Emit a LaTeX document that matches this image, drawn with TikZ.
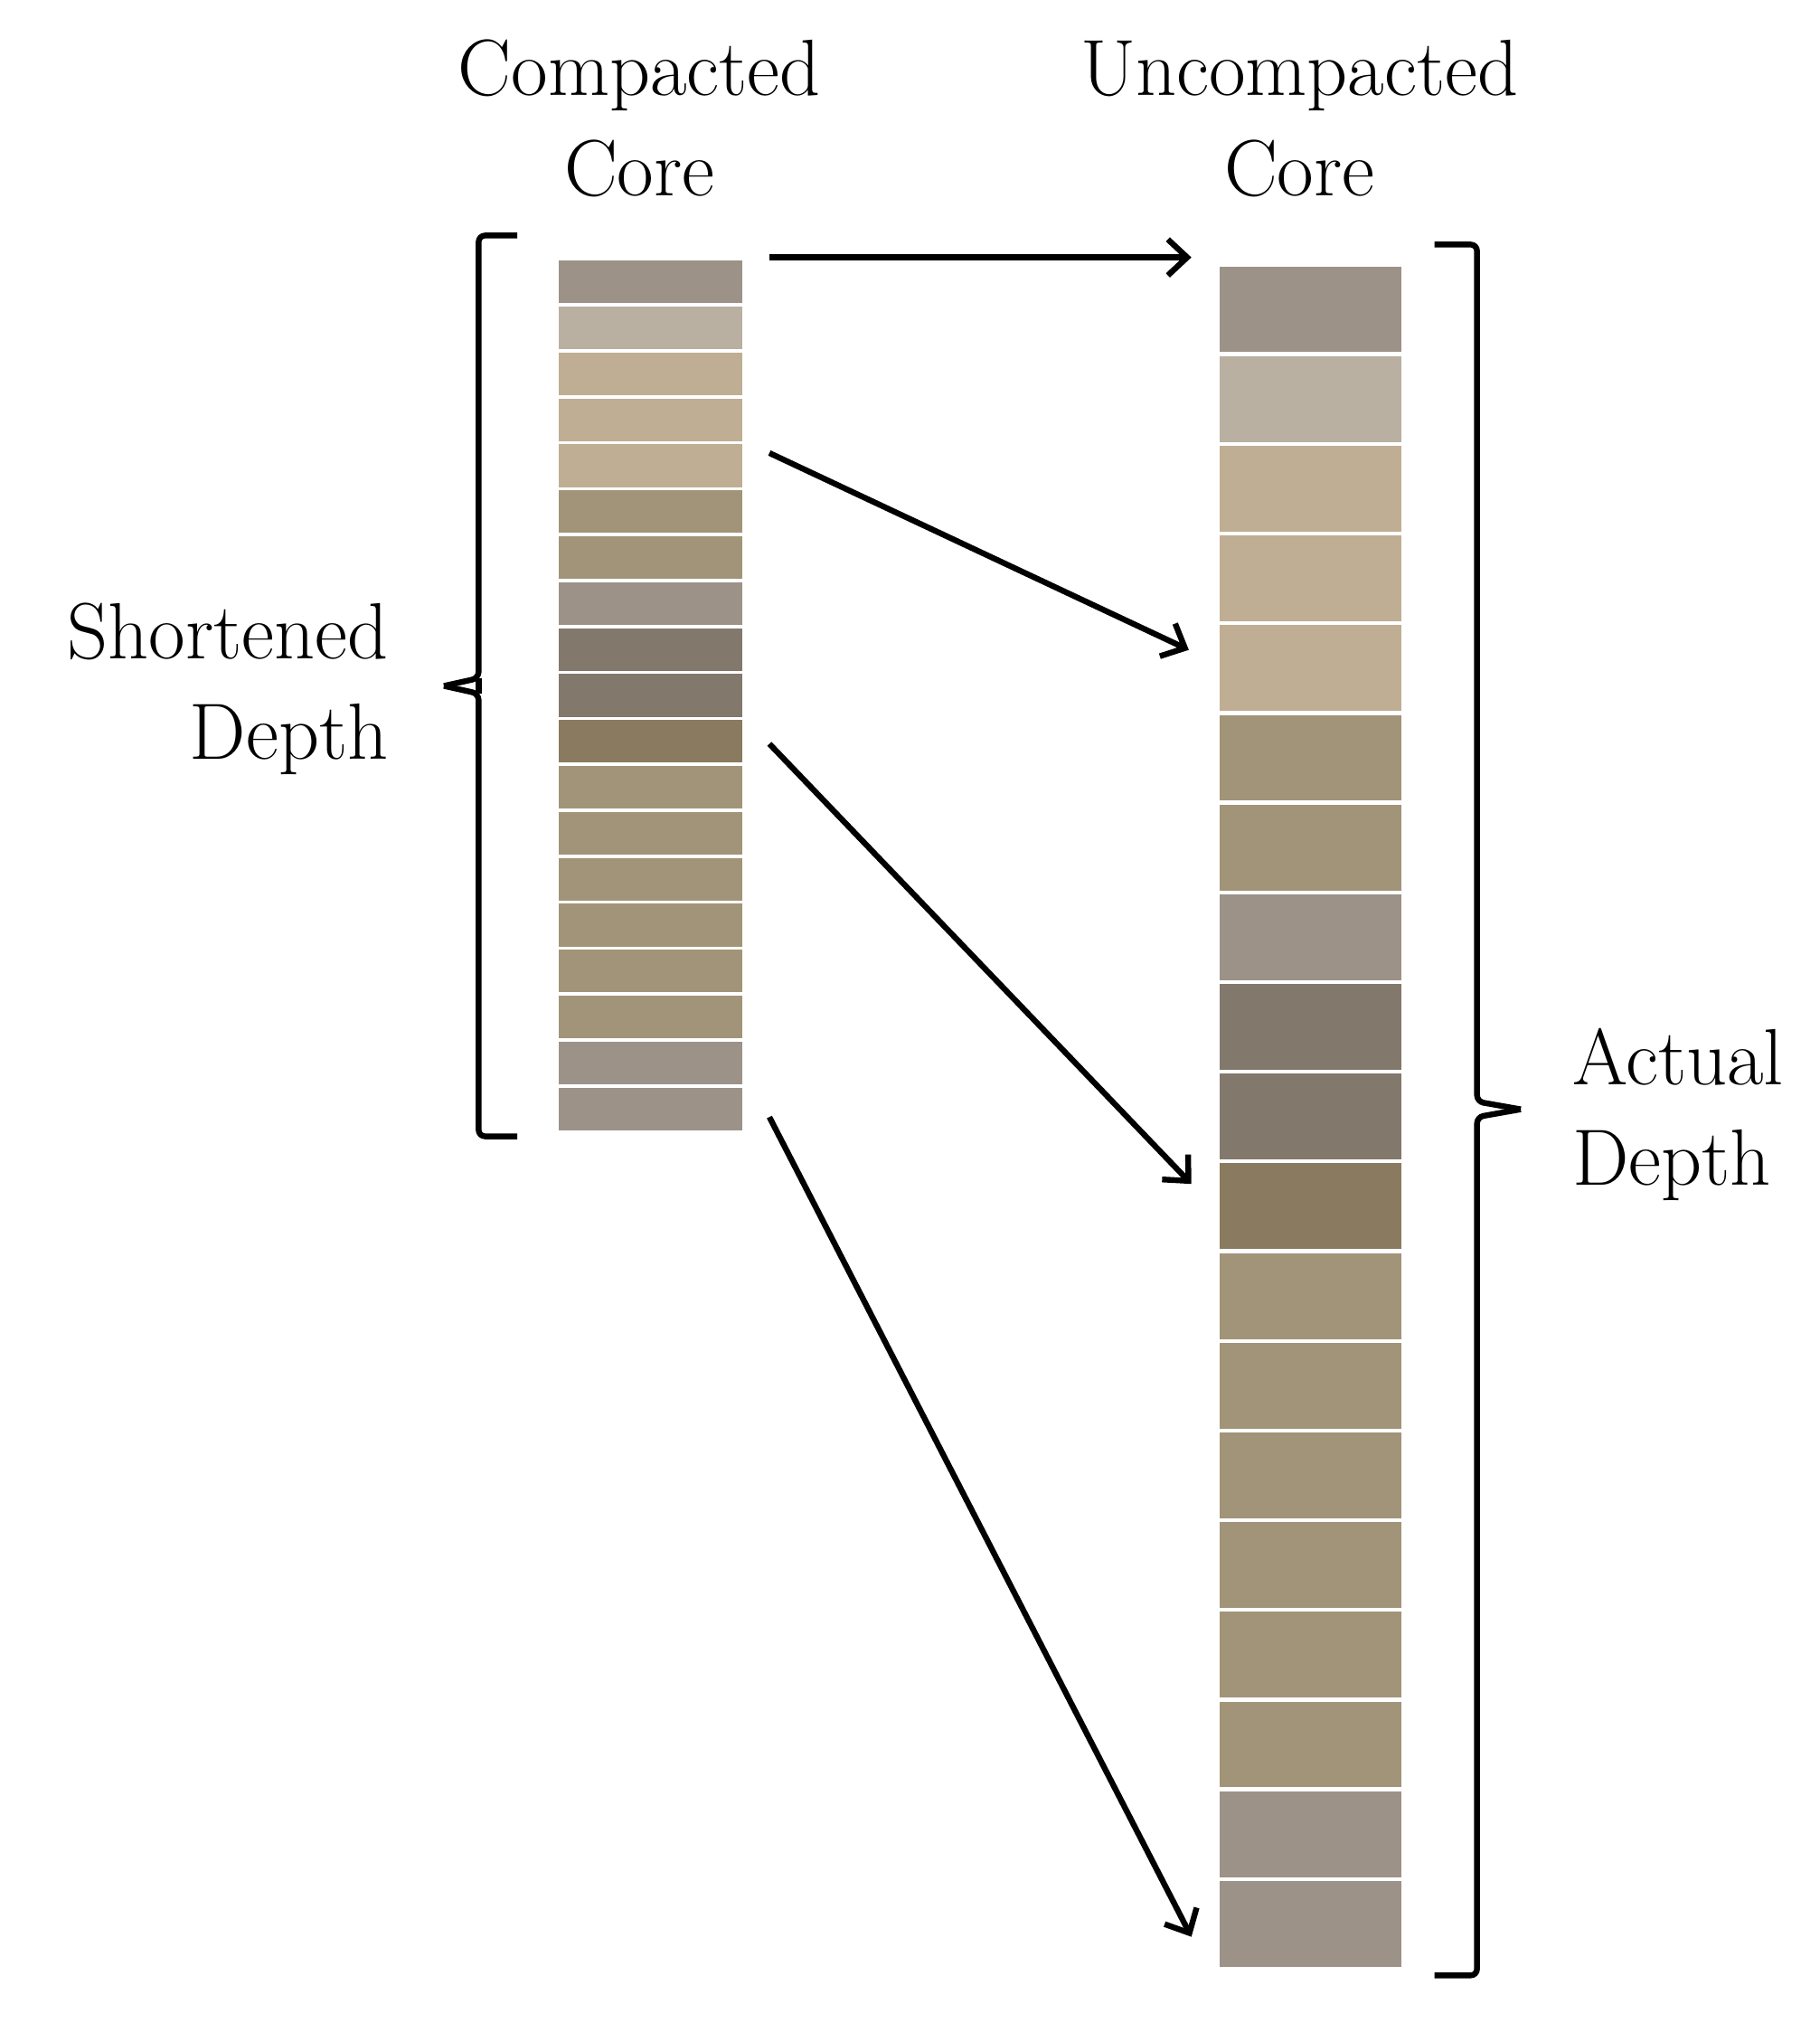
\documentclass[tikz,border=0pt]{standalone}
\usetikzlibrary{arrows.meta}
\definecolor{cA}{HTML}{9C9288}
\definecolor{cB}{HTML}{B9B0A2}
\definecolor{cC}{HTML}{BFAE94}
\definecolor{cD}{HTML}{A29479}
\definecolor{cE}{HTML}{82786C}
\definecolor{cF}{HTML}{8A7A60}
\begin{document}
\begin{tikzpicture}[x=1pt,y=-1pt,
  lbl/.style={font=\fontsize{62}{78}\selectfont, align=center, inner sep=0},
  arr/.style={line width=4.5pt,-{Straight Barb[length=15pt,width=28pt]}},
  brace/.style={line width=4.5pt, rounded corners=5pt}]
\useasboundingbox (0,0) rectangle (1414,1572);
\foreach \c [count=\i] in {cA,cB,cC,cC,cC,cD,cD,cA,cE,cE,cF,cD,cD,cD,cD,cD,cD,cA,cA}{
  \pgfmathsetmacro\ly{200+(\i-1)*35.7}
  \pgfmathsetmacro\ry{204+(\i-1)*69.7}
  \node[fill=\c, draw=white, line width=2.5pt, minimum width=145pt, minimum height=35.7pt, inner sep=0, anchor=north west] (L\i) at (432,\ly) {};
  \node[fill=\c, draw=white, line width=3pt, minimum width=144pt, minimum height=69.7pt, inner sep=0, anchor=north west] (R\i) at (945,\ry) {};
}
\node[lbl] (t1) at (497,92) {Compacted\\Core};
\node[lbl] (t2) at (1010,92) {Uncompacted\\Core};
\node[lbl, align=right, anchor=east] (t3) at (302,535) {Shortened\\Depth};
\node[lbl, align=left, anchor=west] (t4) at (1222,866) {Actual\\Depth};
\coordinate (a1) at (598,200); \coordinate (b1) at (926,200);
\coordinate (a2) at (598,352); \coordinate (b2) at (924,505);
\coordinate (a3) at (598,578); \coordinate (b3) at (926,920);
\coordinate (a4) at (598,868); \coordinate (b4) at (926,1505);
\foreach \i in {1,...,4} \draw[arr] (a\i) -- (b\i);
\draw[brace] (402,183) -- (372,183) -- (372,527) -- (345,533) ;
\draw[line width=4.5pt] (372,527) -- (372,539);
\draw[brace] (345,533) -- (372,539) -- (372,883) -- (402,883);
\draw[brace] (1115,190) -- (1148,190) -- (1148,856) -- (1182,862);
\draw[brace] (1182,862) -- (1148,868) -- (1148,1535) -- (1115,1535);
\end{tikzpicture}
\end{document}
